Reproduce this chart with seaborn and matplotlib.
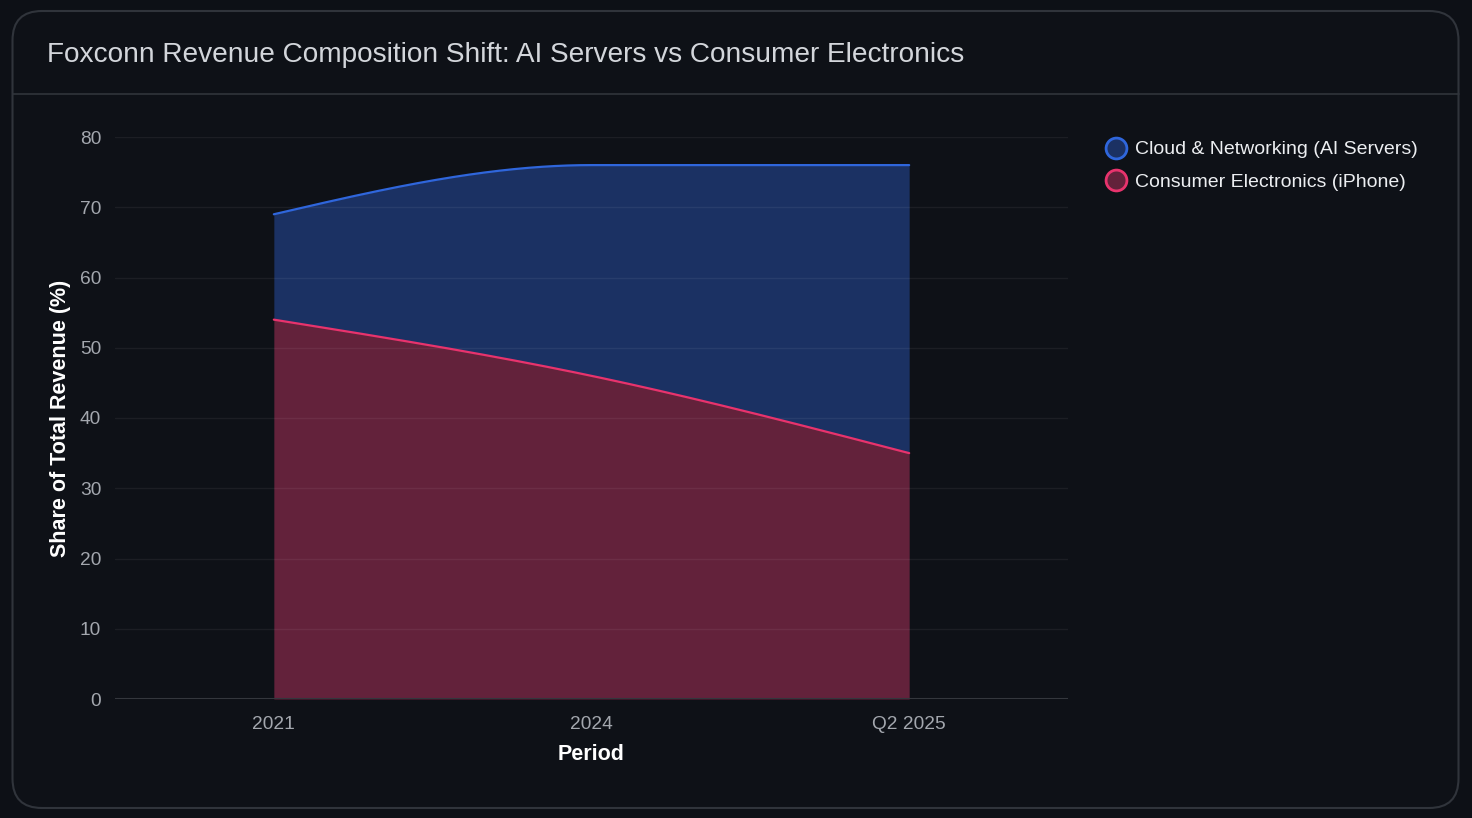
import numpy as np
import pandas as pd
import matplotlib
matplotlib.use("Agg")
import matplotlib.pyplot as plt
from matplotlib.patches import FancyBboxPatch
from matplotlib.lines import Line2D
import seaborn as sns

periods = ["2021", "2024", "Q2 2025"]
consumer = [54, 46, 35]
cloud = [15, 30, 41]
series_names = ["Cloud & Networking (AI Servers)", "Consumer Electronics (iPhone)"]

BG = "#0d1016"
CARD_EDGE = "#30343b"
BLUE_LINE = "#2f66dc"
BLUE_FILL = "#1b3163"
RED_LINE = "#e8336d"
RED_FILL = "#63223b"


def monotone_x(y, n=200):
    """d3 curveMonotoneX-style rendering path through the data points."""
    y = np.asarray(y, float)
    k = len(y)
    s = np.diff(y)
    sg = lambda v: -1.0 if v < 0 else 1.0
    m = np.zeros(k)
    for i in range(1, k - 1):
        p = (s[i - 1] + s[i]) / 2
        m[i] = (sg(s[i - 1]) + sg(s[i])) * min(abs(s[i - 1]), abs(s[i]), 0.5 * abs(p))
    m[0] = (3 * s[0] - m[1]) / 2
    m[-1] = (3 * s[-1] - m[-2]) / 2
    xs, ys = [], []
    for i in range(k - 1):
        t = np.linspace(0, 1, n, endpoint=(i == k - 2))
        h00 = 2 * t**3 - 3 * t**2 + 1
        h10 = t**3 - 2 * t**2 + t
        h01 = -2 * t**3 + 3 * t**2
        h11 = t**3 - t**2
        xs.append(i + t)
        ys.append(h00 * y[i] + h10 * m[i] + h01 * y[i + 1] + h11 * m[i + 1])
    return np.concatenate(xs), np.concatenate(ys)


sns.set_theme(style="dark")
plt.rcParams["font.family"] = ["Liberation Sans", "DejaVu Sans"]

fig = plt.figure(figsize=(14.72, 8.18), dpi=100, facecolor=BG)
card = FancyBboxPatch((12.5 / 1472, 10 / 818), 1446 / 1472, 797 / 818,
                      boxstyle="round,pad=0,rounding_size=0.02",
                      transform=fig.transFigure, facecolor="#0e1117",
                      edgecolor=CARD_EDGE, linewidth=1.5, mutation_aspect=1472 / 818,
                      zorder=-10)
fig.patches.append(card)
fig.add_artist(Line2D([12.5 / 1472, 1458.5 / 1472], [1 - 94 / 818] * 2,
                      transform=fig.transFigure, color=CARD_EDGE, lw=1.2, zorder=-5))
fig.text(47 / 1472, 1 - 55 / 818, "Foxconn Revenue Composition Shift: AI Servers vs Consumer Electronics",
         color="#d3d6db", fontsize=20.2, va="center", ha="left")

ax = fig.add_axes([115 / 1472, 1 - 699 / 818, (1068 - 115) / 1472, (699 - 137) / 818])
ax.set_facecolor("none")

df = pd.DataFrame({"period": periods, "consumer": consumer, "cloud": cloud})
df["total"] = df["consumer"] + df["cloud"]

xs, yc = monotone_x(df["consumer"].values)
_, yt = monotone_x(df["total"].values)

ax.fill_between(xs, 0, yc, color=RED_FILL, lw=0, zorder=1)
ax.fill_between(xs, yc, yt, color=BLUE_FILL, lw=0, zorder=1)
for v in range(10, 81, 10):
    ax.axhline(v, color="white", alpha=0.06, lw=1, zorder=1.5)
ax.axhline(0, color="#34373d", lw=1.5, zorder=1.6)

sns.lineplot(x=xs, y=yt, ax=ax, color=BLUE_LINE, lw=1.6, zorder=3)
sns.lineplot(x=xs, y=yc, ax=ax, color=RED_LINE, lw=1.6, zorder=3)

ax.set_xlim(-0.5, 2.5)
ax.set_ylim(0, 80)
ax.set_xticks(range(len(periods)))
ax.set_xticklabels(periods)
ax.set_yticks(range(0, 81, 10))
ax.tick_params(colors="#a3a7ae", labelsize=13.8, length=0, pad=12)
ax.tick_params(axis="y", pad=10)
ax.grid(False)
for s in ax.spines.values():
    s.set_visible(False)
ax.set_xlabel("Period", color="white", fontsize=15.5, fontweight="bold", labelpad=8)
ax.set_ylabel("Share of Total Revenue (%)", color="white", fontsize=15.5, fontweight="bold", labelpad=6)

handles = [
    Line2D([], [], marker="o", ls="", markersize=15, markerfacecolor=BLUE_FILL,
           markeredgecolor=BLUE_LINE, markeredgewidth=2),
    Line2D([], [], marker="o", ls="", markersize=15, markerfacecolor=RED_FILL,
           markeredgecolor=RED_LINE, markeredgewidth=2),
]
leg = fig.legend(handles, series_names, loc="upper left",
                 bbox_to_anchor=(1097 / 1472, 1 - 133 / 818), frameon=False,
                 fontsize=14, labelcolor="#eceef1", handletextpad=0.35,
                 labelspacing=0.78, handlelength=1.2, borderaxespad=0)

fig.savefig("out.png", dpi=100, facecolor=BG)
